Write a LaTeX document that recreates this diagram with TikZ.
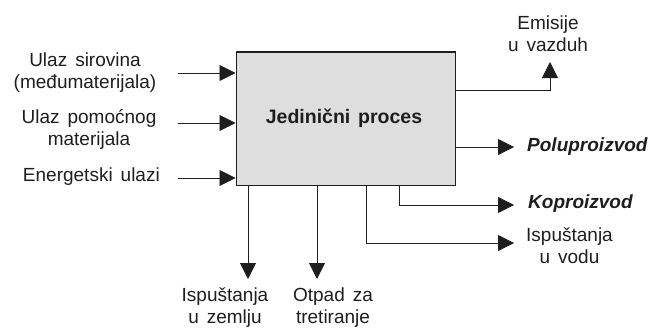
\documentclass[tikz,border=0pt]{standalone}
\usepackage{fontspec}
\setmainfont{Liberation Sans}
\usetikzlibrary{arrows.meta}
\definecolor{boxgray}{HTML}{DEDEDE}
\definecolor{ink}{HTML}{1E1E1E}
\newcommand{\labelfont}{\fontsize{19}{22}\selectfont\spaceskip=0.42em plus 0.1em\relax}
\newcommand{\prodfont}{\fontsize{19}{22}\selectfont\bfseries\itshape}
\newcommand{\titlefont}{\fontsize{19.5}{22}\selectfont\bfseries\spaceskip=0.4em plus 0.1em\relax}
\tikzset{
  flow/.style={draw=ink, line width=0.9pt, -{Triangle[length=16pt,width=16pt]}},
  lbl/.style={font=\labelfont, text=ink, inner sep=0pt, align=center},
  prod/.style={font=\prodfont, text=ink, inner sep=0pt, anchor=west},
  procbox/.style={draw=ink, line width=1pt, fill=boxgray, minimum width=219pt, minimum height=133pt, inner sep=0pt}
}
\begin{document}
\begin{tikzpicture}[x=1pt,y=-1pt]
\useasboundingbox (0,0) rectangle (652,329);
% unit process
\node[procbox] (box) at (345.5,118.5) {};
\node[lbl, font=\titlefont] (title) at (344,118) {Jedinični proces};
% inputs
\node[lbl] (in1) at (85,73) {Ulaz sirovina\\(međumaterijala)};
\node[lbl] (in2) at (89,129) {Ulaz pomoćnog\\materijala};
\node[lbl, anchor=east] (in3) at (160,177) {Energetski ulazi};
\coordinate (s1) at (178,73);
\coordinate (s2) at (178,123);
\coordinate (s3) at (178,178);
\draw[flow] (s1) -- (box.west |- s1);
\draw[flow] (s2) -- (box.west |- s2);
\draw[flow] (s3) -- (box.west |- s3);
% air emissions
\node[lbl] (air) at (548,34) {Emisije\\u vazduh};
\coordinate (a0) at (455,90);
\coordinate (a1) at (550,90);
\coordinate (a2) at (550,62);
\draw[flow] (box.east |- a0) -- (a1) -- (a2);
% products
\node[prod] (semi) at (527,147) {Poluproizvod};
\draw[flow] (box.east |- semi) -- (semi.west -| 514,0);
\node[prod] (co) at (528,204) {Koproizvod};
\coordinate (c0) at (399,185);
\coordinate (c1) at (399,205);
\draw[flow] (c0) -- (c1) -- (514,205);
% water
\node[lbl, anchor=west, align=center] (water) at (526,246) {Ispuštanja\\u vodu};
\coordinate (w0) at (366,185);
\coordinate (w1) at (366,243);
\draw[flow] (w0) -- (w1) -- (514,243);
% soil and waste
\node[lbl] (soil) at (225,308) {Ispuštanja\\u zemlju};
\node[lbl] (waste) at (333,308) {Otpad za\\tretiranje};
\draw[flow] (248,185) -- (248,279);
\draw[flow] (317,185) -- (317,279);
\end{tikzpicture}
\end{document}
